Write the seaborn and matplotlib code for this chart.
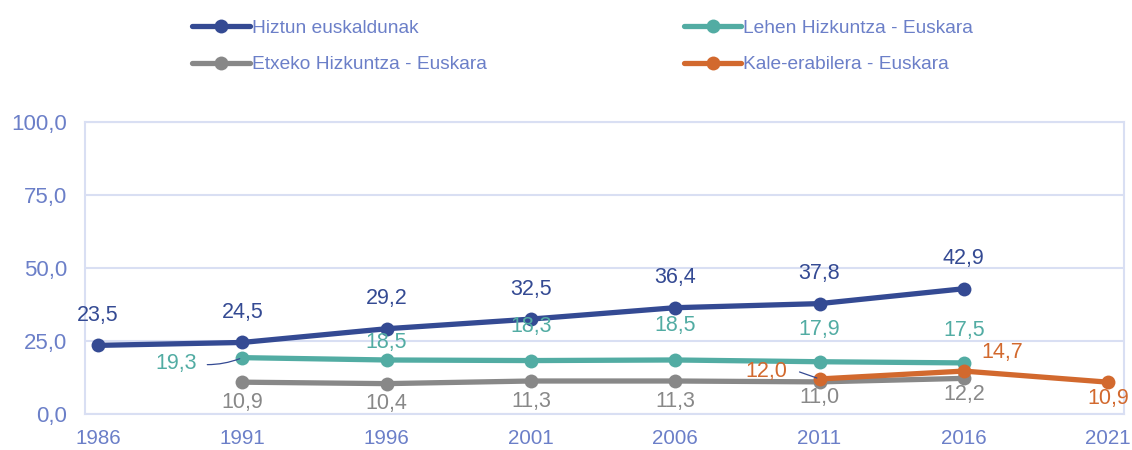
import matplotlib
matplotlib.use("Agg")
import matplotlib.pyplot as plt
import seaborn as sns
import numpy as np
import pandas as pd

# --- DATOS ---
years = ["1986", "1991", "1996", "2001", "2006", "2011", "2016", "2021"]
hiztun = [23.5, 24.5, 29.2, 32.5, 36.4, 37.8, 42.9, np.nan]
lehen = [np.nan, 19.3, 18.5, 18.3, 18.5, 17.9, 17.5, np.nan]
etxeko = [np.nan, 10.9, 10.4, 11.3, 11.3, 11.0, 12.2, np.nan]
kale = [np.nan, np.nan, np.nan, np.nan, np.nan, 12.0, 14.7, 10.9]

series_names = ["Hiztun euskaldunak", "Lehen Hizkuntza - Euskara",
                "Etxeko Hizkuntza - Euskara", "Kale-erabilera - Euskara"]
colors = ["#344a93", "#52aca3", "#888888", "#d2692e"]
axis_color = "#6b7fc8"
grid_color = "#d9dff3"

sns.set_theme(style="white")
plt.rcParams["font.family"] = ["Liberation Sans", "DejaVu Sans"]

fig = plt.figure(figsize=(11.32, 4.5), dpi=100)
ax = fig.add_axes([85 / 1132, 36 / 450, (1124 - 85) / 1132, (414 - 122) / 450])

x = np.arange(len(years))
all_series = [hiztun, lehen, etxeko, kale]
handles = []
for name, vals, col in zip(series_names, all_series, colors):
    df = pd.DataFrame({"x": x, "y": vals}).dropna()
    sns.lineplot(data=df, x="x", y="y", ax=ax, color=col, linewidth=3.8,
                 marker="o", markersize=10, markeredgewidth=0, legend=False)
    handles.append(plt.Line2D([], [], color=col, linewidth=3.8, marker="o",
                              markersize=10, markeredgewidth=0))

def fmt(v):
    return f"{v:.1f}".replace(".", ",")

# desplazamientos de etiquetas en px (positivo = arriba)
px = 72 / 100
offsets = {
    0: {i: (0, 30) for i in range(7)},
    1: {1: (-66, -6), 2: (0, 17), 3: (0, 34), 4: (0, 34), 5: (0, 32), 6: (0, 32)},
    2: {1: (0, -20), 2: (0, -20), 3: (0, -20), 4: (0, -20), 5: (0, -16), 6: (0, -16)},
    3: {5: (-53, 7), 6: (38, 19), 7: (0, -16)},
}
for si, (vals, col) in enumerate(zip(all_series, colors)):
    for i, v in enumerate(vals):
        if np.isnan(v):
            continue
        dx, dy = offsets[si][i]
        ax.annotate(fmt(v), (i, v), xytext=(dx * px, dy * px),
                    textcoords="offset points", ha="center", va="center",
                    color=col, fontsize=15.5)

# lineas guia
ax.annotate("", xy=(1, 19.3), xytext=(-35 * px, -7 * px), textcoords="offset points",
            arrowprops=dict(arrowstyle="-", color=colors[0], lw=0.9,
                            shrinkA=0, shrinkB=2, connectionstyle="arc3,rad=0.1"))
ax.annotate("", xy=(5, 12.0), xytext=(-20 * px, 7 * px), textcoords="offset points",
            arrowprops=dict(arrowstyle="-", color=colors[0], lw=0.9,
                            shrinkA=0, shrinkB=2))

ax.set_xlim(-0.09, 7.11)
ax.set_ylim(0, 100)
ax.set_yticks([0, 25, 50, 75, 100])
ax.set_yticklabels([fmt(v) for v in [0, 25, 50, 75, 100]])
ax.set_xticks(x)
ax.set_xticklabels(years)
ax.set_xlabel("")
ax.set_ylabel("")
ax.yaxis.grid(True, color=grid_color, linewidth=1.5)
ax.tick_params(axis="both", colors=axis_color, length=0)
ax.tick_params(axis="y", pad=13, labelsize=16)
ax.tick_params(axis="x", pad=11, labelsize=14.8)
for sp in ax.spines.values():
    sp.set_color(grid_color)
    sp.set_linewidth(1.5)

# leyenda en filas: Hiztun / Lehen arriba, Etxeko / Kale abajo
order = [0, 2, 1, 3]
fig.legend([handles[i] for i in order], [series_names[i] for i in order],
           loc="upper left", bbox_to_anchor=(175 / 1132, 1 - 2 / 450),
           ncol=2, frameon=False, labelcolor=axis_color, fontsize=13.8,
           handlelength=3.0, handletextpad=0.1, columnspacing=10.3,
           labelspacing=1.0)

fig.savefig("out.png", dpi=100)
